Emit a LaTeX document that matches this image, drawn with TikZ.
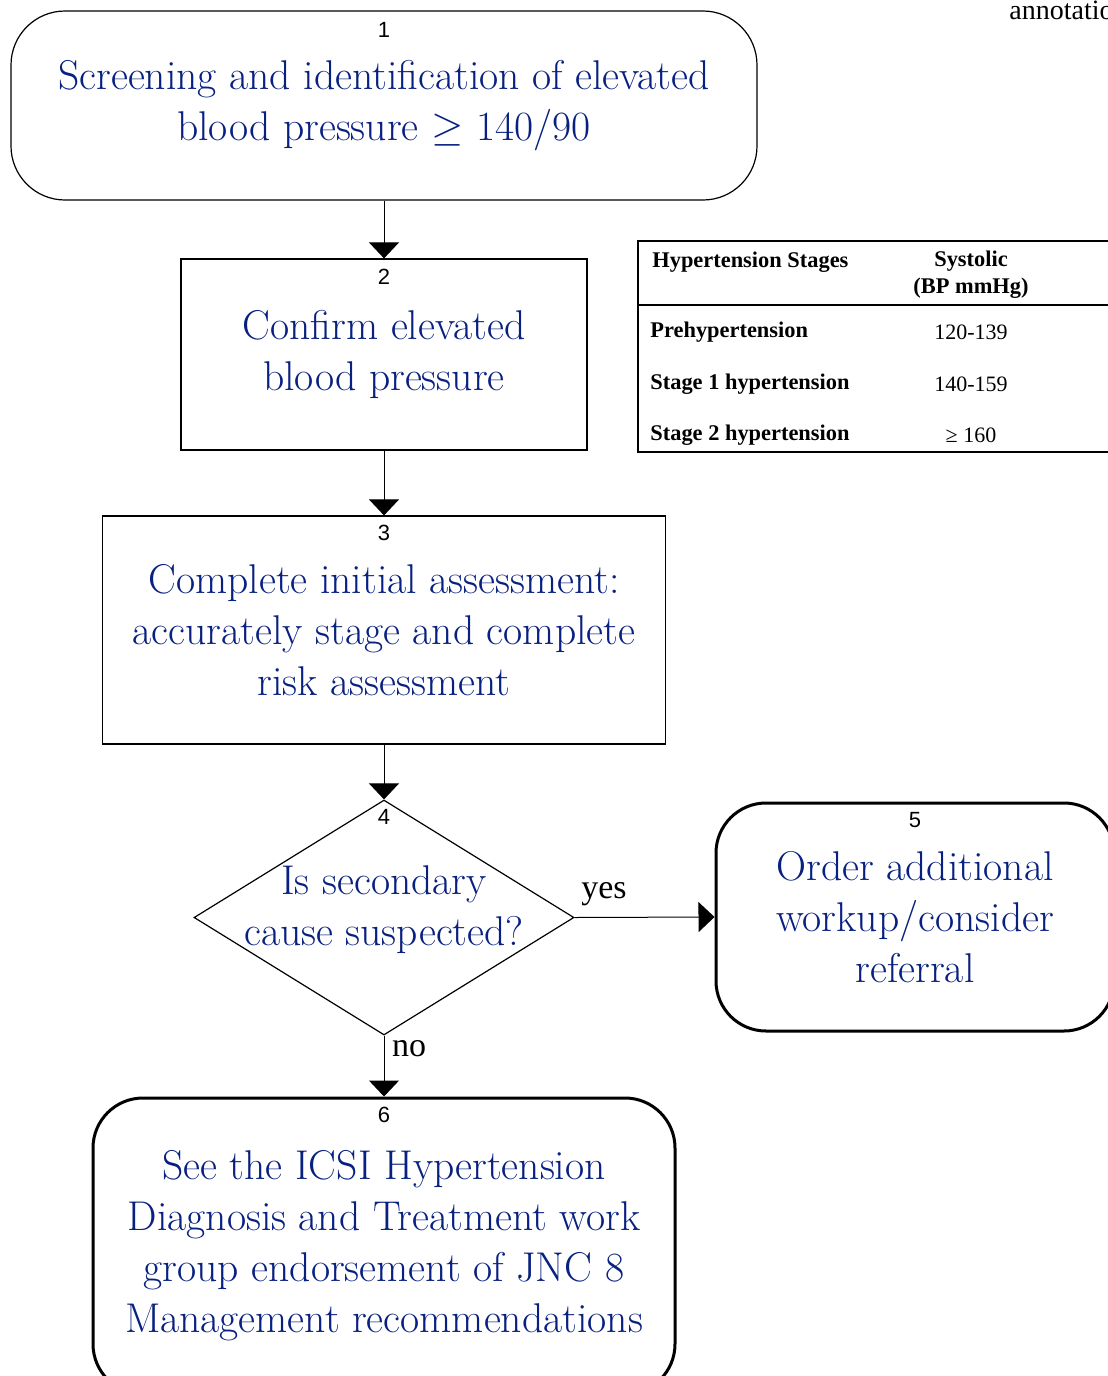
\documentclass[tikz,border=0pt]{standalone}
\usepackage{fontspec}
\usetikzlibrary{positioning, shapes.geometric, arrows.meta}
\newfontfamily\timesfont{Liberation Serif}
\newfontfamily\arialfont{Liberation Sans}
\definecolor{flowblue}{RGB}{8,32,128}

\tikzset{
  box/.style={draw, line width=0.6pt, align=center, text=flowblue,
    font=\fontsize{20.8}{25.5}\selectfont, inner sep=0pt},
  roundbox/.style={box, rounded corners=27pt},
  endbox/.style={box, rounded corners=25pt, line width=1.5pt},
  decision/.style={draw, diamond, aspect=1.6, line width=0.6pt, inner sep=0pt},
  bluetext/.style={align=center, text=flowblue,
    font=\fontsize{20.8}{25.5}\selectfont, inner sep=0pt},
  num/.style={font=\arialfont\fontsize{11}{12}\selectfont, inner sep=0pt},
  flow/.style={-{Triangle[width=15pt,length=8pt]}, line width=0.5pt},
  answer/.style={font=\timesfont\fontsize{17}{20}\selectfont, inner sep=0pt},
  tabhead/.style={font=\timesfont\bfseries\fontsize{11.2}{13.5}\selectfont, inner sep=0pt},
  tabval/.style={font=\timesfont\fontsize{11}{13.5}\selectfont, inner sep=0pt}
}

\begin{document}
\begin{tikzpicture}[x=0.5pt, y=-0.5pt]
  \clip (0,0) rectangle (1108,1376); % page frame

  % flow boxes
  \node[roundbox, minimum width=373pt, minimum height=94.5pt] (b1) at (384,105.5)
    {Screening and identification of elevated\\ blood pressure $\geq$ 140/90};
  \node[box, minimum width=203pt, minimum height=95.5pt] (b2) at (384,354.5)
    {Confirm elevated\\ blood pressure};
  \node[box, minimum width=281.5pt, minimum height=114pt] (b3) at (384,630)
    {Complete initial assessment:\\ accurately stage and complete\\ risk assessment};
  \node[decision, minimum width=190pt, minimum height=117.5pt] (q4) at (384,917.5) {};
  \node[bluetext] (q4text) at (384,910) {Is secondary\\ cause suspected?};
  \node[endbox, minimum width=199pt, minimum height=114pt] (b5) at (915,917)
    {Order additional\\ workup/consider\\ referral};
  \node[endbox, minimum width=291pt, minimum height=148pt] (b6) at (384,1246)
    {See the ICSI Hypertension\\ Diagnosis and Treatment work\\ group endorsement of JNC 8\\ Management recommendations};

  % box numbers
  \node[num, below=6pt of b1.north] (n1) {1};
  \node[num, below=5pt of b2.north] (n2) {2};
  \node[num, below=4.5pt of b3.north] (n3) {3};
  \node[num, below=5pt of q4.north] (n4) {4};
  \node[num, below=5pt of b5.north] (n5) {5};
  \node[num, below=5pt of b6.north] (n6) {6};

  % connectors
  \draw[flow] (b1.south) -- (b2.north);
  \draw[flow] (b2.south) -- (b3.north);
  \draw[flow] (b3.south) -- (q4.north);
  \draw[flow] (q4.east) -- (b5.west);
  \draw[flow] (q4.south) -- (b6.north);
  \node[answer] (yes) at (604,894) {yes};
  \node[answer] (no) at (409,1049) {no};

  % stage table
  \draw[line width=1.2pt] (638,241) rectangle (1130,452);
  \draw[line width=1.2pt] (638,305) -- (1130,305);
  \node[tabhead, anchor=west] (h1) at (652,262) {Hypertension Stages};
  \node[tabhead, align=center] (h2) at (971,275) {Systolic\\(BP mmHg)};
  \node[tabhead, anchor=west] (r1) at (650,332) {Prehypertension};
  \node[tabhead, anchor=west] (r2) at (650,384) {Stage 1 hypertension};
  \node[tabhead, anchor=west] (r3) at (650,435) {Stage 2 hypertension};
  \node[tabval] (v1) at (971,332) {120-139};
  \node[tabval] (v2) at (971,384) {140-159};
  \node[tabval] (v3) at (971,435) {≥ 160};

  \node[font=\timesfont\fontsize{14}{16}\selectfont, anchor=base west, inner sep=0pt]
    (note) at (1009,19) {annotation};
\end{tikzpicture}
\end{document}
